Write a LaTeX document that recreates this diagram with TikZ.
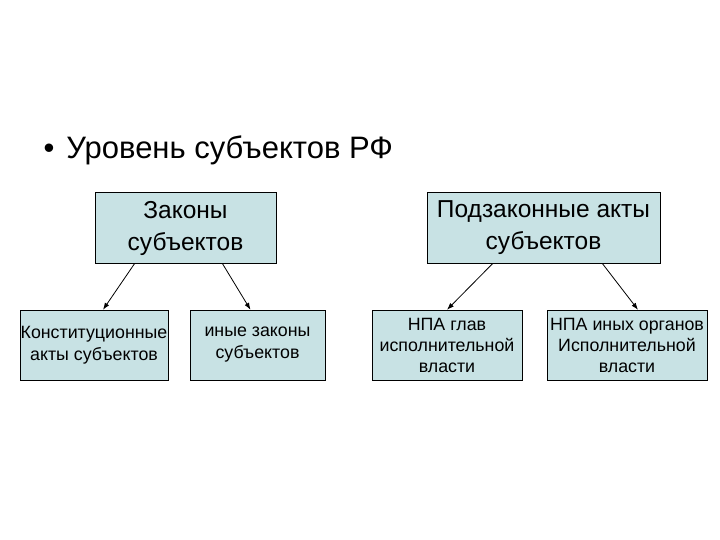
\documentclass[tikz,border=0pt]{standalone}
\usepackage{fontspec}
\usetikzlibrary{arrows.meta}
\setmainfont{Liberation Sans}
\begin{document}
\begin{tikzpicture}[x=1pt,y=-1pt,
  bx/.style={draw=black,fill={rgb,255:red,200;green,226;blue,228},inner sep=0pt,align=center},
  ar/.style={-{Latex[length=7pt,width=5pt]},line width=0.8pt}]
\useasboundingbox (0,0) rectangle (720,540);
\node[anchor=west,font=\fontsize{31}{36}\selectfont] (t) at (40,150) {•\hspace{12pt}Уровень субъектов РФ};
\node[bx,minimum width=181,minimum height=71,font=\fontsize{24.5}{32}\selectfont] (a) at (185.5,228) {Законы\\субъектов};
\node[bx,minimum width=233,minimum height=71,font=\fontsize{24.5}{32}\selectfont] (b) at (543.5,228) {Подзаконные акты\\субъектов};
\node[bx,minimum width=148,minimum height=70,font=\fontsize{17.8}{22}\selectfont] (c) at (94,345) {Конституционные\\акты субъектов};
\node[bx,minimum width=135,minimum height=70,font=\fontsize{17.8}{22}\selectfont] (d) at (257.5,345) {иные законы\\субъектов};
\node[bx,minimum width=150,minimum height=70,font=\fontsize{17.8}{21}\selectfont] (e) at (447,345) {НПА глав\\исполнительной\\власти};
\node[bx,minimum width=160,minimum height=70,font=\fontsize{17.8}{21}\selectfont] (f) at (627,345) {НПА иных органов\\Исполнительной\\власти};
\draw[ar] ([xshift=-51]a.south) -- ([xshift=9]c.north);
\draw[ar] ([xshift=37]a.south) -- ([xshift=-7]d.north);
\draw[ar] ([xshift=-51]b.south) -- ([xshift=0]e.north);
\draw[ar] ([xshift=59]b.south) -- ([xshift=11]f.north);
\end{tikzpicture}
\end{document}
